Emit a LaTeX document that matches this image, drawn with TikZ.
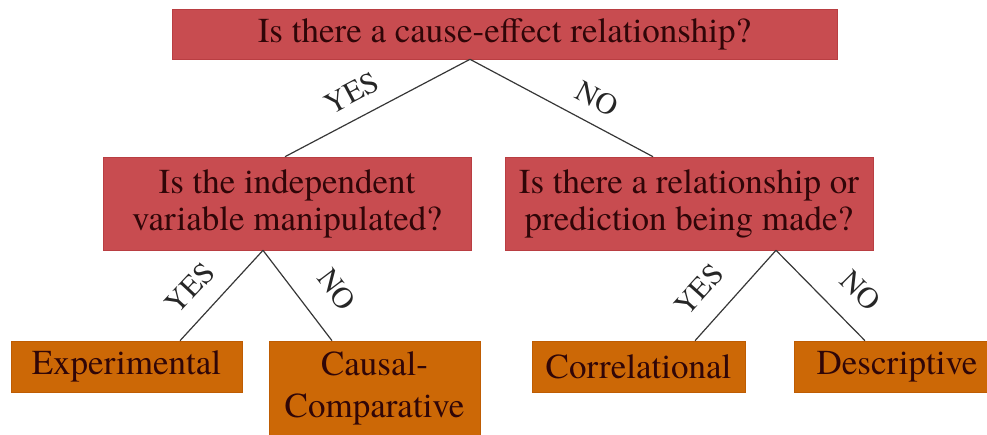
\documentclass[tikz,border=0pt]{standalone}
\usepackage{fontspec}
\setmainfont{texgyretermes}[Extension=.otf, UprightFont=*-regular]
\newfontfamily\tms{texgyretermes}[Extension=.otf, UprightFont=*-regular]
\definecolor{qred}{RGB}{200,76,80}
\definecolor{qredd}{RGB}{185,62,66}
\definecolor{aor}{RGB}{204,104,6}
\definecolor{aord}{RGB}{190,92,2}
\definecolor{txt}{RGB}{48,6,8}
\definecolor{lnc}{RGB}{55,55,55}
\begin{document}
\begin{tikzpicture}[x=1pt,y=-1pt,
  qbox/.style={fill=qred, draw=qredd, line width=0.6pt, inner sep=0pt, text=txt,
    font=\tms\fontsize{35}{37}\selectfont, align=center},
  abox/.style={fill=aor, draw=aord, line width=0.6pt, inner sep=0pt, text=txt,
    font=\tms\fontsize{35}{37}\selectfont, align=center},
  lab/.style={font=\tms\fontsize{30}{30}\selectfont, text=black!85, inner sep=0pt},
  conn/.style={draw=lnc, line width=1.2pt}]
\useasboundingbox (0,0) rectangle (987,434);
\clip (0,0) rectangle (987,434);

\node[qbox, minimum width=665, minimum height=50] (top) at (504.5,34)
  {Is there a cause-effect relationship?};
\node[qbox, minimum width=368, minimum height=93] (q1) at (287,203.5)
  {Is the independent\\variable manipulated?};
\node[qbox, minimum width=368, minimum height=93] (q2) at (689,203.5)
  {Is there a relationship or\\prediction being made?};
\node[abox, minimum width=231, minimum height=51] (exp) at (126.5,366.5) {Experimental};
\node[abox, minimum width=211, minimum height=95, font=\tms\fontsize{35}{42}\selectfont] (cc) at (374.5,388.5)
  {Causal-\\Comparative};
\node[abox, minimum width=213, minimum height=51] (cor) at (638.5,366.5) {Correlational};
\node[abox, minimum width=206, minimum height=51] (des) at (897,366.5) {Descriptive};

\draw[conn] ([xshift=-34.5pt]top.south) -- ([xshift=-2pt]q1.north);
\draw[conn] ([xshift=-34.5pt]top.south) -- ([xshift=-36pt]q2.north);
\draw[conn] ([xshift=-24pt]q1.south) -- ([xshift=53.5pt]exp.north);
\draw[conn] ([xshift=-24pt]q1.south) -- ([xshift=-42.5pt]cc.north);
\draw[conn] ([xshift=87pt]q2.south) -- ([xshift=56.5pt]cor.north);
\draw[conn] ([xshift=87pt]q2.south) -- ([xshift=-32pt]des.north);

\node[lab, rotate=28] (l1) at (352,93) {YES};
\node[lab, rotate=-28] (l2) at (597,99) {NO};
\node[lab, rotate=47] (l3) at (190,288) {YES};
\node[lab, rotate=-53] (l4) at (337,290) {NO};
\node[lab, rotate=48] (l5) at (699,290) {YES};
\node[lab, rotate=-45] (l6) at (861,291) {NO};
\end{tikzpicture}
\end{document}
